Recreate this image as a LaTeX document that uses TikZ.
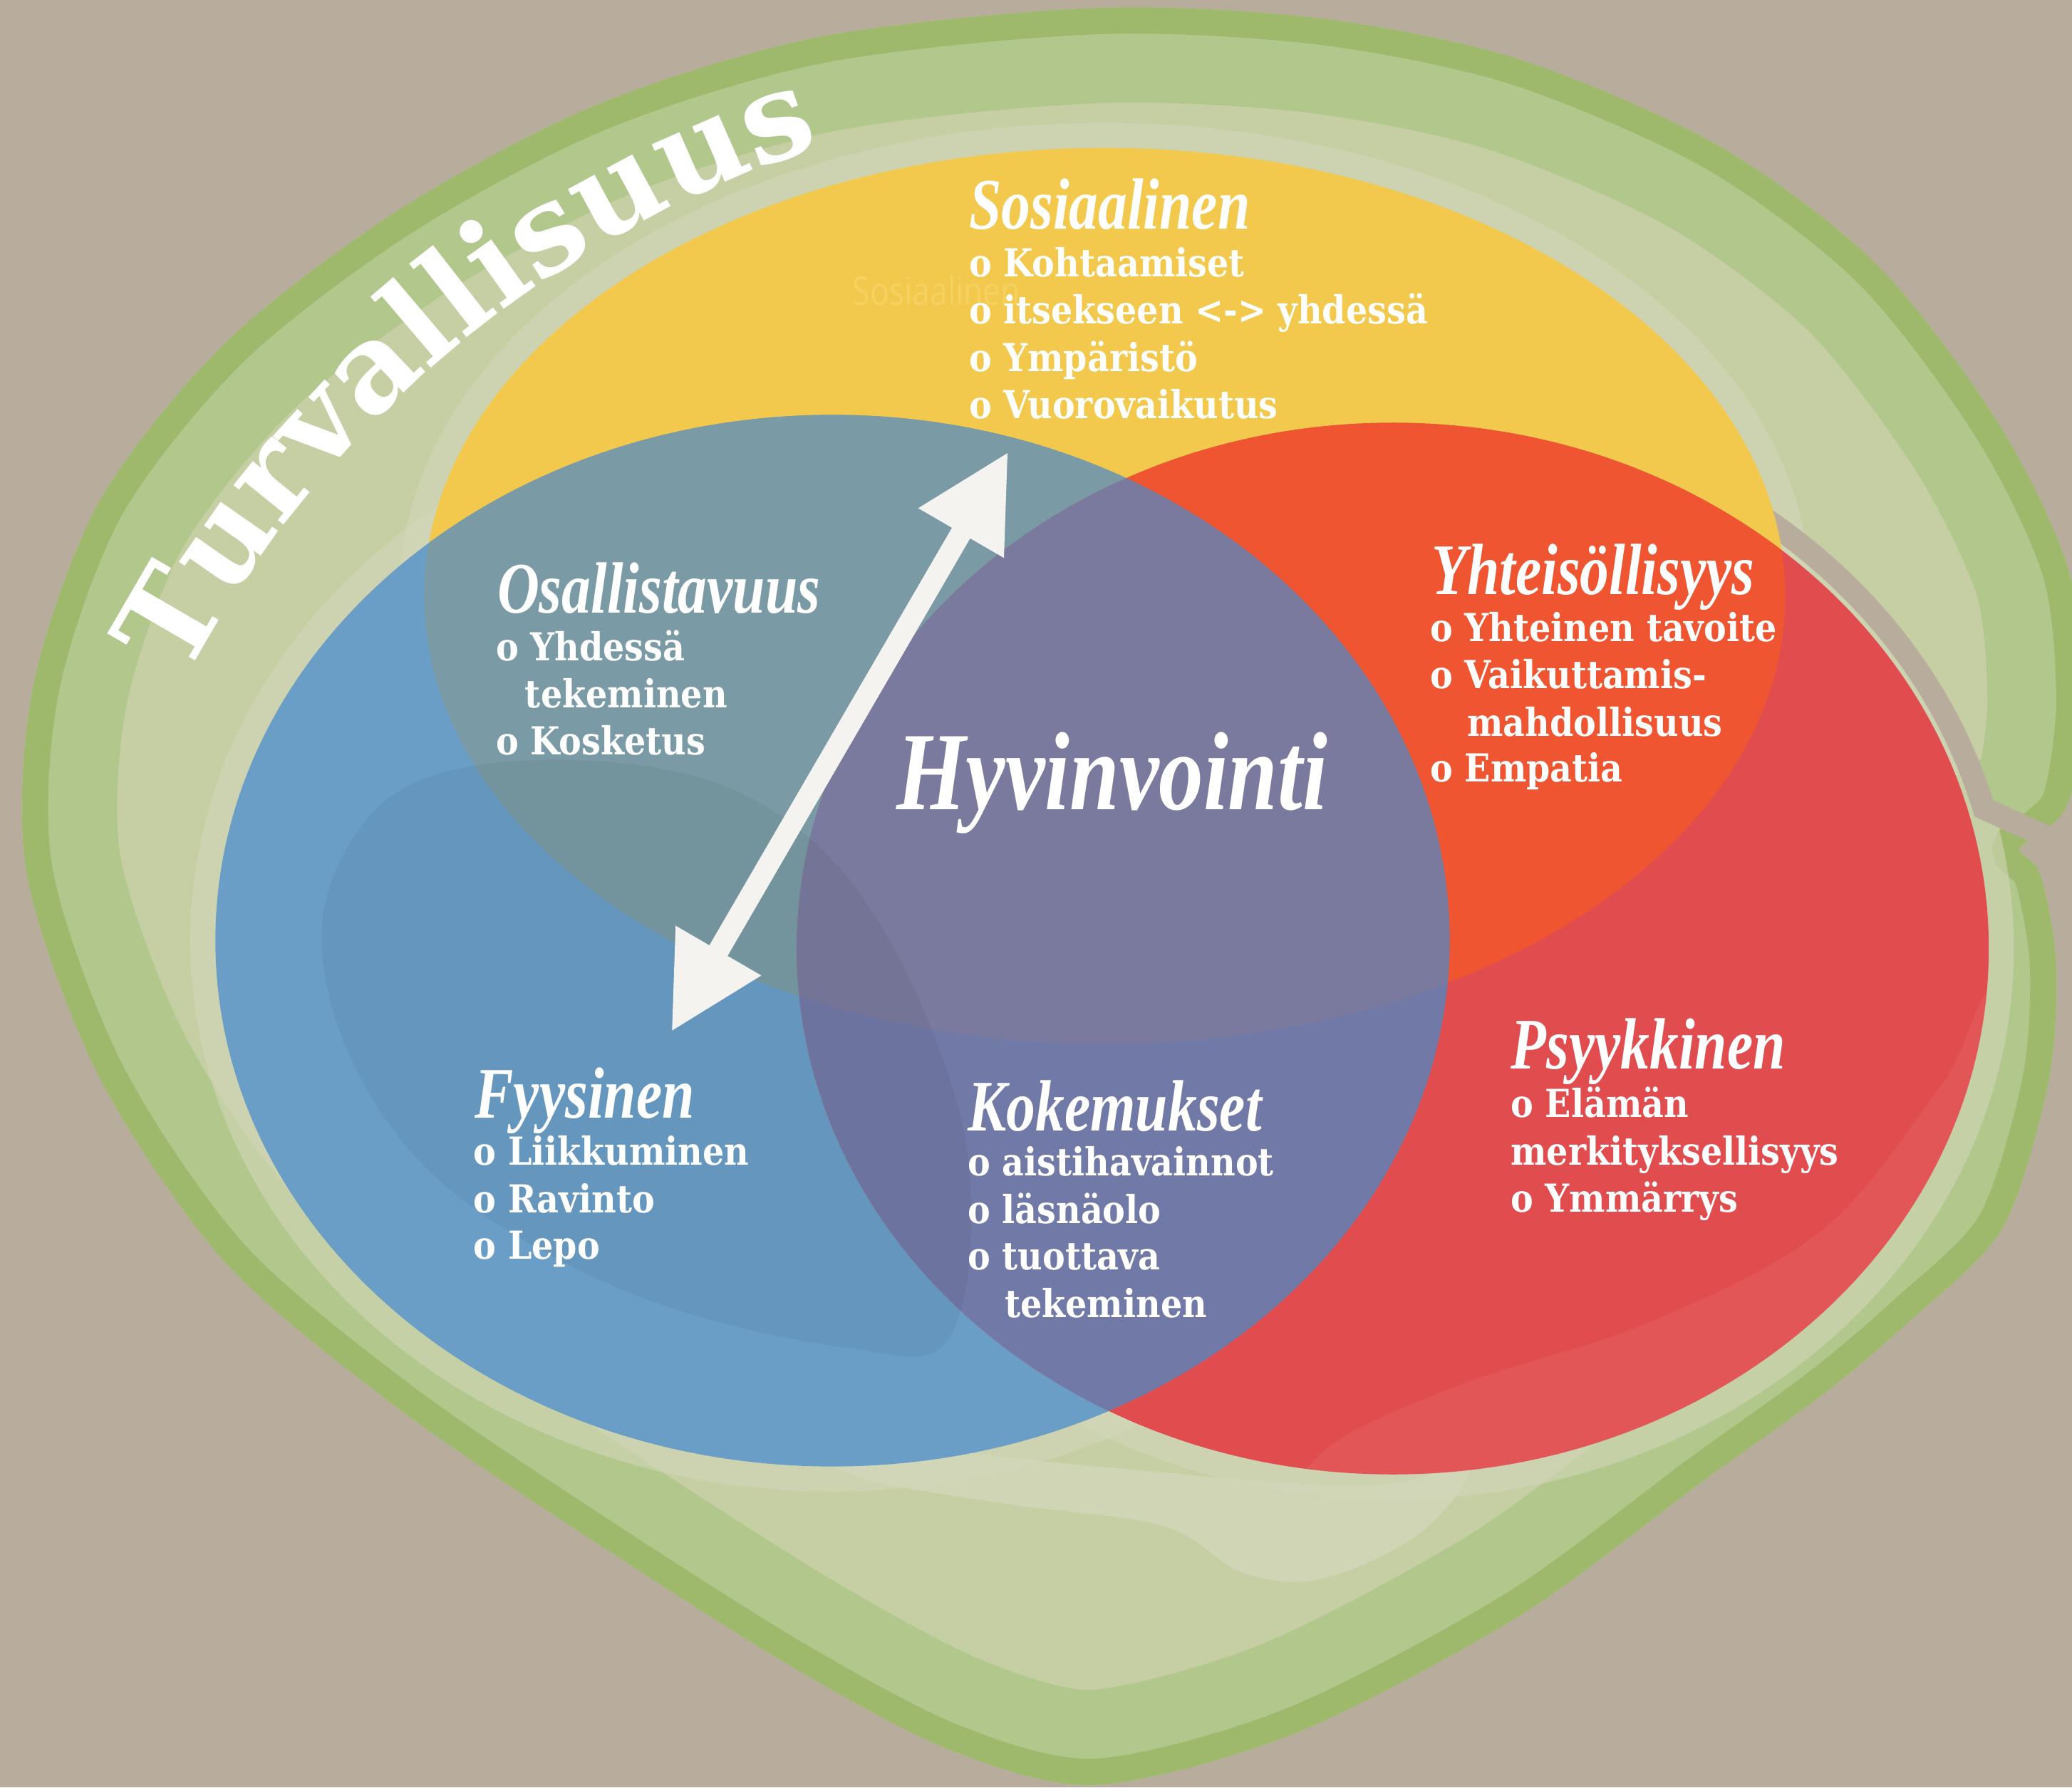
\documentclass[tikz,border=0pt]{standalone}
\usepackage{fontspec}
\usetikzlibrary{arrows.meta,decorations.text}
\newfontfamily\bodyfont{DejaVu Serif}[FakeStretch=0.88]
\newfontfamily\titlefont{Liberation Serif}[FakeStretch=0.8]
\newfontfamily\turvfont{DejaVu Serif}
\newfontfamily\faintfont{Open Sans}[FakeStretch=0.8]
\definecolor{bgc}{RGB}{184,172,157}
\definecolor{gdark}{RGB}{158,184,108}
\definecolor{gmed}{RGB}{178,199,140}
\definecolor{glight}{RGB}{197,207,163}
\definecolor{gpale}{RGB}{211,215,186}
\definecolor{cyel}{RGB}{242,201,76}
\definecolor{cblue}{RGB}{106,158,199}
\definecolor{cred}{RGB}{225,77,78}
\definecolor{cteal}{RGB}{122,155,165}
\definecolor{corange}{RGB}{238,85,48}
\definecolor{cpurlo}{RGB}{113,121,166}
\definecolor{cpurhi}{RGB}{122,122,158}
\definecolor{arrw}{RGB}{244,243,240}
\definecolor{faintc}{RGB}{245,210,95}
\begin{document}
\begin{tikzpicture}[x=0.018546cm,y=-0.018546cm,
  body/.style={text=white, inner sep=0pt, anchor=base west, font=\bodyfont\bfseries\fontsize{15.4}{18}\selectfont},
  ttl/.style={text=white, inner sep=0pt, anchor=base west, font=\titlefont\bfseries\itshape\fontsize{29}{32}\selectfont},
  bigttl/.style={text=white, inner sep=0pt, anchor=base west, font=\titlefont\bfseries\itshape\fontsize{44.5}{48}\selectfont},
  faint/.style={text=faintc, inner sep=0pt, anchor=base west, font=\faintfont\fontsize{15.8}{18}\selectfont},
  yelE/.style={insert path={(836,451) ellipse[x radius=515, y radius=339]}},
  bluE/.style={insert path={(630,712) ellipse[x radius=467, y radius=398]}},
  redE/.style={insert path={(1054,718) ellipse[x radius=451, y radius=398]}}
]
\useasboundingbox (0,0) rectangle (1568,1353);
\fill[bgc] (0,0) rectangle (1568,1353);

% green blob (Turvallisuus)
\path[save path=\greenouter] plot[smooth cycle, tension=0.5] coordinates {
(830,6) (1000,14) (1150,45) (1300,110) (1420,200) (1512,320) (1565,430) (1576,530) (1566,605) (1546,630) (1528,643) (1544,662) (1556,730) (1550,820) (1515,930) (1445,1000) (1380,1055) (1290,1120) (1150,1223) (980,1312) (830,1351) (720,1325) (600,1262) (450,1167) (300,1065) (170,955) (75,815) (20,660) (25,520) (75,380) (170,260) (300,160) (450,80) (620,28)};
\fill[glight, use path=\greenouter];
\begin{scope}
  \clip[use path=\greenouter];
  \draw[gmed, line width=76pt, use path=\greenouter];
  \draw[gdark, line width=21pt, use path=\greenouter];
\end{scope}
% pale halo
\fill[gpale, opacity=0.8] plot[smooth cycle, tension=0.6] coordinates {(620,1090) (830,1110) (1030,1125) (1110,1110) (1075,1160) (1000,1195) (940,1190) (880,1155) (760,1138) (650,1118)};
\draw[gpale, line width=20pt, opacity=0.6, bluE];
\draw[gpale, line width=20pt, opacity=0.6, redE];
\draw[gpale, line width=20pt, opacity=0.6, yelE];
% gap between red and upper right lobe
\draw[bgc, line width=9pt, line cap=round] (1054,718) ++(-55:463 and 410) arc[start angle=-55, end angle=-15, x radius=463, y radius=410] -- (1550,634);

% circles
\fill[cyel, yelE];
\fill[cblue, bluE];
\fill[cred, redE];
\begin{scope}
  \clip[bluE];
  \fill[cteal, yelE];
\end{scope}
\begin{scope}
  \clip[redE];
  \fill[corange, yelE];
\end{scope}
\begin{scope}
  \clip[bluE];
  \fill[cpurlo, redE];
  \clip[redE];
  \fill[cpurhi, yelE];
\end{scope}
% subtle inner shading
\begin{scope}
  \clip[bluE];
  \fill[black, opacity=0.045] plot[smooth cycle, tension=0.6] coordinates {(245,690) (300,600) (420,575) (560,600) (660,690) (730,860) (720,1010) (640,1020) (480,980) (340,900) (265,800)};
\end{scope}
\begin{scope}
  \clip[redE];
  \fill[white, opacity=0.05] plot[smooth cycle, tension=0.6] coordinates {(1000,1100) (1100,1050) (1250,1000) (1380,930) (1470,820) (1510,760) (1530,1000) (1300,1150) (1000,1150)};
\end{scope}

% faint text
\node[faint] (faintsos) at (645,231) {Sosiaalinen};

% Sosiaalinen
\node[ttl] (sos) at (733,173.5) {Sosiaalinen};
\node[body] (sos1) at (733,209.4) {o Kohtaamiset};
\node[body] (sos2) at (733,245.2) {o itsekseen <-> yhdessä};
\node[body] (sos3) at (733,281.0) {o Ympäristö};
\node[body] (sos4) at (733,316.8) {o Vuorovaikutus};
% Osallistavuus
\node[ttl] (osa) at (376,464) {Osallistavuus};
\node[body] (osa1) at (375,500) {o Yhdessä};
\node[body] (osa2) at (397,535.5) {tekeminen};
\node[body] (osa3) at (375,571) {o Kosketus};
% Hyvinvointi
\node[bigttl] (hyv) at (678,613) {Hyvinvointi};
% Yhteisollisyys
\node[ttl] (yht) at (1083,450) {Yhteisöllisyys};
\node[body] (yht1) at (1082,485.3) {o Yhteinen tavoite};
\node[body] (yht2) at (1082,521) {o Vaikuttamis-};
\node[body] (yht3) at (1110,557) {mahdollisuus};
\node[body] (yht4) at (1082,592) {o Empatia};
% Psyykkinen
\node[ttl] (psy) at (1143,809) {Psyykkinen};
\node[body] (psy1) at (1143,845.6) {o Elämän};
\node[body] (psy2) at (1143,881.6) {merkityksellisyys};
\node[body] (psy3) at (1143,917.6) {o Ymmärrys};
% Fyysinen
\node[ttl] (fyy) at (359,846) {Fyysinen};
\node[body] (fyy1) at (358,882) {o Liikkuminen};
\node[body] (fyy2) at (358,918) {o Ravinto};
\node[body] (fyy3) at (358,953) {o Lepo};
% Kokemukset
\node[ttl] (kok) at (732,856) {Kokemukset};
\node[body] (kok1) at (732,890) {o aistihavainnot};
\node[body] (kok2) at (732,926) {o läsnäolo};
\node[body] (kok3) at (732,961) {o tuottava};
\node[body] (kok4) at (760,997) {tekeminen};

% double arrow
\coordinate (arrL) at (508,781);
\coordinate (arrU) at (763,342);
\draw[arrw, line width=8.4pt, {Triangle[length=37.5pt,width=37pt]}-{Triangle[length=37.5pt,width=37pt]}] (arrL) -- (arrU);

% Turvallisuus along arc
\path[decorate, decoration={text along path, text align=center, text={|\turvfont\bfseries\fontsize{49}{50}\selectfont\color{white}|Turvallisuus}}] (876,903) ++(-165:832) arc[start angle=-165, end angle=-95, radius=832];
\end{tikzpicture}
\end{document}
